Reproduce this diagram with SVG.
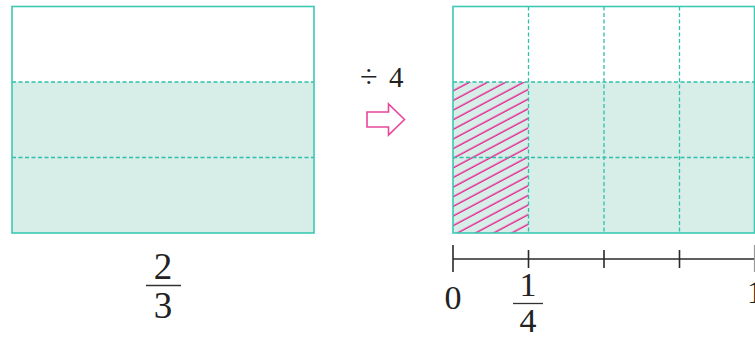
<svg xmlns="http://www.w3.org/2000/svg" width="755" height="340" viewBox="0 0 755 340">
<style>
.frame{fill:none;stroke:#3cc8b2;stroke-width:1.6}
.fillc{fill:#d6ede8}
.dash{fill:none;stroke:#2fc0a9;stroke-width:1.3;stroke-dasharray:4 2.5}
.num{fill:#222}
.axis{stroke:#2a2a2a;stroke-width:1.6;fill:none}
.bar{stroke:#333;stroke-width:1.3}
</style>
<defs>
<pattern id="hatch" patternUnits="userSpaceOnUse" width="20" height="8.5" patternTransform="rotate(-28)">
<line x1="-2" y1="4" x2="22" y2="4" stroke="#e5258f" stroke-width="1.4"/>
</pattern>
<clipPath id="hclip"><rect x="453" y="82" width="75.5" height="151"/></clipPath>
</defs>
<g id="left-rect">
<rect class="fillc" x="12" y="82" width="302" height="151"/>
<line class="dash" x1="12" y1="82" x2="314" y2="82"/>
<line class="dash" x1="12" y1="157.5" x2="314" y2="157.5"/>
<rect class="frame" x="12" y="6.5" width="302" height="226.5"/>
</g>
<g id="label-two-thirds" font-family="'Liberation Serif', 'Times New Roman', serif">
<text class="num" x="163" y="279" font-size="37" text-anchor="middle">2</text>
<line class="bar" x1="146" y1="285.5" x2="181" y2="285.5"/>
<text class="num" x="163" y="318" font-size="37" text-anchor="middle">3</text>
</g>
<g id="operation" font-family="'Liberation Serif', 'Times New Roman', serif">
<text class="num" y="87"><tspan x="360" font-size="32">÷</tspan><tspan x="389" font-size="29">4</tspan></text>
<path d="M367 112 H388.5 V104 L404.5 119.5 L388.5 135 V127 H367 Z" fill="none" stroke="#e8479b" stroke-width="1.6" stroke-linejoin="miter"/>
</g>
<g id="right-rect">
<rect class="fillc" x="453" y="82" width="302" height="151"/>
<rect x="453" y="82" width="75.5" height="151" fill="url(#hatch)" clip-path="url(#hclip)"/>
<line class="dash" x1="453" y1="82" x2="755" y2="82"/>
<line class="dash" x1="453" y1="157.5" x2="755" y2="157.5"/>
<line class="dash" x1="528.5" y1="6.5" x2="528.5" y2="233"/>
<line class="dash" x1="604" y1="6.5" x2="604" y2="233"/>
<line class="dash" x1="679.5" y1="6.5" x2="679.5" y2="233"/>
<rect class="frame" x="453" y="6.5" width="301.5" height="226.5"/>
</g>
<g id="number-line" font-family="'Liberation Serif', 'Times New Roman', serif">
<line class="axis" x1="453" y1="259" x2="755" y2="259"/>
<line class="axis" x1="453" y1="245" x2="453" y2="272"/>
<line class="axis" x1="528.5" y1="250" x2="528.5" y2="268"/>
<line class="axis" x1="604" y1="250" x2="604" y2="268"/>
<line class="axis" x1="679.5" y1="250" x2="679.5" y2="268"/>
<line x1="754.5" y1="245" x2="754.5" y2="272" stroke="#999" stroke-width="1.2"/>
<text class="num" x="453" y="309" font-size="34" text-anchor="middle">0</text>
<text class="num" x="528" y="296" font-size="34" text-anchor="middle">1</text>
<line class="bar" x1="513" y1="303.5" x2="543" y2="303.5"/>
<text class="num" x="528" y="332" font-size="34" text-anchor="middle">4</text>
<text class="num" x="747" y="303" font-size="32">1</text>
</g>
</svg>
